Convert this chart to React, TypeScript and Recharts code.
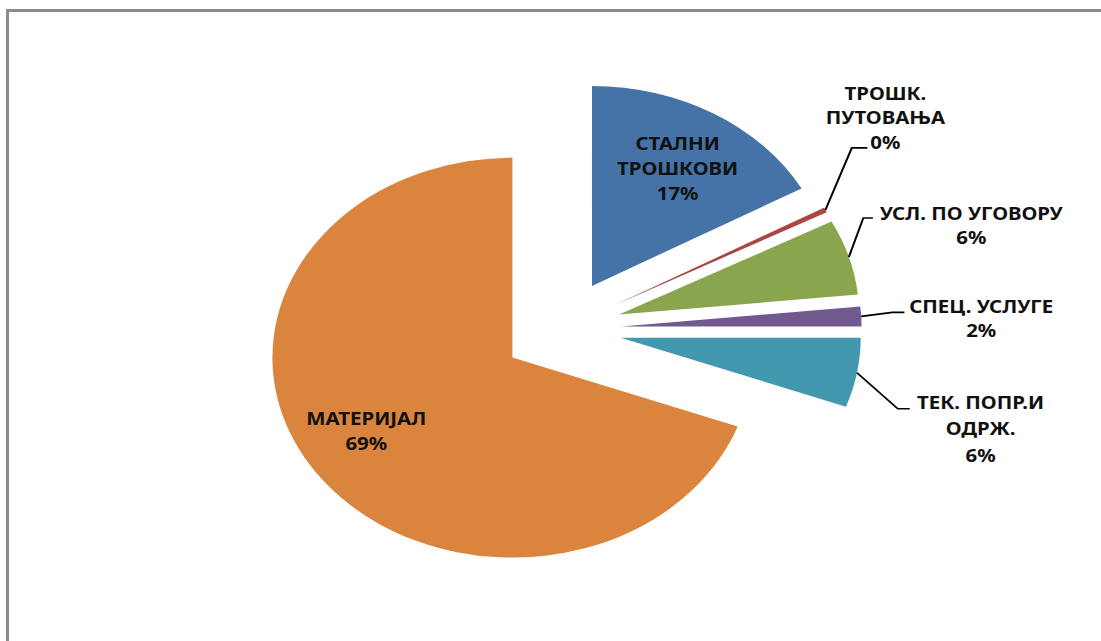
import React from "react";
import { Cell, Pie, PieChart } from "recharts";

// shares of the budget
const CATEGORIES = [
  "СТАЛНИ\nТРОШКОВИ",
  "ТРОШК.\nПУТОВАЊА",
  "УСЛ. ПО УГОВОРУ",
  "СПЕЦ. УСЛУГЕ",
  "ТЕК. ПОПР.И\nОДРЖ.",
  "МАТЕРИЈАЛ",
];
const SHARES = [16.9, 0.4, 6.1, 1.6, 5.6, 69.4];
const COLORS = ["#4572A7", "#AA4643", "#89A54E", "#71588F", "#4198AF", "#DB843D"];

const data = CATEGORIES.map((name, i) => ({ name, value: SHARES[i] }));
const total = SHARES.reduce((a, b) => a + b, 0);

// picture was stretched horizontally, so the svg is drawn narrower and scaled
const SCALE_X = 1.2;
const W = 918;
const H = 641;
const CX = 468;
const CY = 329;
const R = 200;
const EXPLODE = 50;
const FONT = "'Noto Sans', 'DejaVu Sans', sans-serif";
const LINE = 25;

type LabelLayout =
  | { kind: "inside"; r: number; dx: number; dy: number }
  | { kind: "outside"; elbow: [number, number]; end: [number, number]; text: [number, number]; gap: number };

const LABEL_LAYOUT: LabelLayout[] = [
  { kind: "inside", r: 137, dx: 2, dy: 0 },
  { kind: "outside", elbow: [22, -62], end: [35, -62], text: [50, -117], gap: 24.5 },
  { kind: "outside", elbow: [12, -39], end: [20, -39], text: [102, -44], gap: 24 },
  { kind: "outside", elbow: [26, -4], end: [36, -4], text: [100, -10], gap: 24 },
  { kind: "outside", elbow: [34, 36], end: [44, 36], text: [103, 29], gap: 26.5 },
  { kind: "inside", r: 140, dx: -7, dy: -7 },
];

const RAD = Math.PI / 180;

// mid angle of every slice, same convention as the Pie below (start 90, clockwise)
const midAngles = (() => {
  let cum = 0;
  return SHARES.map((v) => {
    const mid = 90 - (360 * (cum + v / 2)) / total;
    cum += v;
    return mid;
  });
})();

const centers = midAngles.map((a) => ({
  x: CX + EXPLODE * Math.cos(-a * RAD),
  y: CY + EXPLODE * Math.sin(-a * RAD),
}));

const renderLabel = (slice: number) => (props: any) => {
  if (props.index !== slice) return null;
  const { cx, cy, midAngle, outerRadius, name, value } = props;
  const pct = props.percent != null ? props.percent : value / total;
  const lines = [...String(name).split("\n"), `${Math.round(pct * 100)}%`];
  const layout = LABEL_LAYOUT[slice];
  const cos = Math.cos(-midAngle * RAD);
  const sin = Math.sin(-midAngle * RAD);

  if (layout.kind === "inside") {
    const x = cx + layout.r * cos + layout.dx;
    const y = cy + layout.r * sin + layout.dy;
    const top = y - ((lines.length - 1) * LINE) / 2;
    return (
      <text x={x} y={top} textAnchor="middle" fontFamily={FONT} fontSize={17} fontWeight={700} fill="#111">
        {lines.map((l, k) => (
          <tspan key={k} x={x} y={top + k * LINE} dominantBaseline="central">
            {l}
          </tspan>
        ))}
      </text>
    );
  }

  const px = cx + outerRadius * cos;
  const py = cy + outerRadius * sin;
  const tx = px + layout.text[0];
  const ty = py + layout.text[1];
  return (
    <g>
      <polyline
        points={`${px},${py} ${px + layout.elbow[0]},${py + layout.elbow[1]} ${px + layout.end[0]},${py + layout.end[1]}`}
        fill="none"
        stroke="#000"
        strokeWidth={1.7}
      />
      <text x={tx} y={ty} textAnchor="middle" fontFamily={FONT} fontSize={17} fontWeight={700} fill="#111">
        {lines.map((l, k) => (
          <tspan key={k} x={tx} y={ty + k * layout.gap} dominantBaseline="central">
            {l}
          </tspan>
        ))}
      </text>
    </g>
  );
};

export default function App() {
  return (
    <div style={{ position: "absolute", left: 0, top: 0, width: 1101, height: 641, overflow: "hidden", background: "#fff" }}>
      <div
        style={{
          position: "absolute",
          left: 6,
          top: 9,
          width: 1300,
          height: 900,
          borderLeft: "3px solid #8c8c8c",
          borderTop: "3px solid #8c8c8c",
        }}
      />
      <div style={{ position: "absolute", left: 0, top: 0, width: W, height: H, transform: `scaleX(${SCALE_X})`, transformOrigin: "0 0" }}>
        <PieChart width={W} height={H} margin={{ top: 0, right: 0, bottom: 0, left: 0 }}>
          {CATEGORIES.map((_, slice) => (
            <Pie
              key={slice}
              data={data}
              dataKey="value"
              nameKey="name"
              cx={centers[slice].x}
              cy={centers[slice].y}
              outerRadius={R}
              startAngle={90}
              endAngle={-270}
              stroke="none"
              isAnimationActive={false}
              labelLine={false}
              label={renderLabel(slice)}
            >
              {data.map((_, j) => (
                <Cell key={j} fill={j === slice ? COLORS[j] : "transparent"} stroke="none" />
              ))}
            </Pie>
          ))}
        </PieChart>
      </div>
    </div>
  );
}
